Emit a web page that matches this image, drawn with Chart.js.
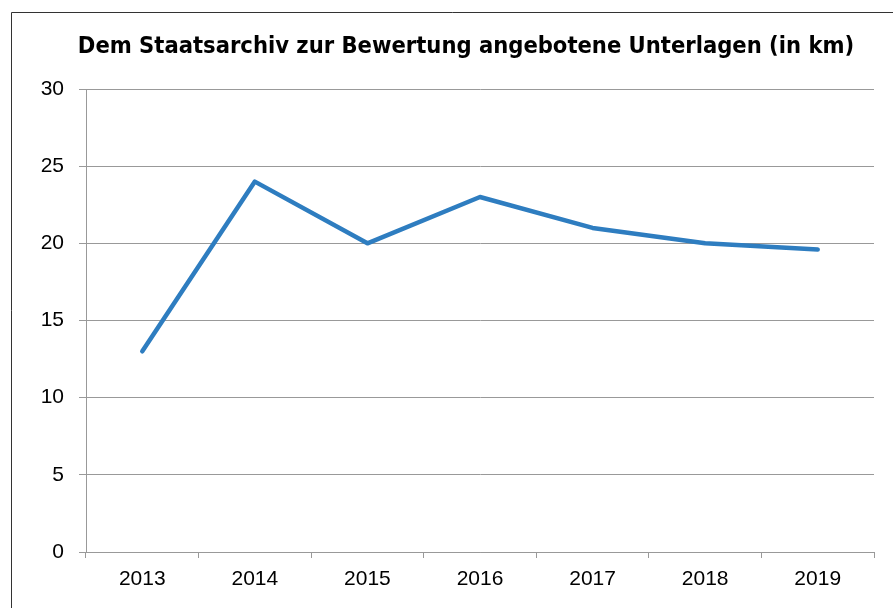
<!DOCTYPE html>
<html><head><meta charset="utf-8">
<script src="https://cdn.jsdelivr.net/npm/chart.js@4/dist/chart.umd.min.js"></script>
<style>html,body{margin:0;padding:0;background:#fff;}#wrap{width:893px;height:608px;position:relative;}</style>
</head><body><div id="wrap"><canvas id="c" width="893" height="608"></canvas></div>
<script>
const titleText = 'Dem Staatsarchiv zur Bewertung angebotene Unterlagen (in km)';
const years = ['2013','2014','2015','2016','2017','2018','2019'];
const values = [13, 24, 20, 23, 21, 20, 19.6];
const yTicks = [0, 5, 10, 15, 20, 25, 30];

const framePlugin = {
  id: 'frame',
  afterLayout(chart) {
    if (chart.titleBlock) { chart.titleBlock.left = 58; chart.titleBlock.right = 874; }
  },
  beforeDraw(chart) {
    const ctx = chart.ctx;
    ctx.save();
    ctx.fillStyle = '#fff';
    ctx.fillRect(0, 0, chart.width, chart.height);
    ctx.strokeStyle = '#333';
    ctx.lineWidth = 1;
    ctx.beginPath();
    ctx.moveTo(11.5, chart.height);
    ctx.lineTo(11.5, 12.5);
    ctx.lineTo(chart.width, 12.5);
    ctx.stroke();
    ctx.restore();
  }
};

new Chart(document.getElementById('c'), {
  type: 'line',
  data: {
    labels: years,
    datasets: [{
      data: values,
      borderColor: '#2E7DC0',
      borderWidth: 4.5,
      pointRadius: 0,
      tension: 0,
      fill: false,
      borderCapStyle: 'round',
      borderJoinStyle: 'round'
    }]
  },
  options: {
    responsive: false,
    animation: false,
    layout: { padding: { left: 0, right: 19, top: 0, bottom: 0 } },
    plugins: {
      legend: { display: false },
      tooltip: { enabled: false },
      title: {
        display: true,
        text: titleText,
        color: '#000',
        font: { family: 'DejaVu Sans Condensed', weight: 'bold', size: 23.5, lineHeight: 1.2 },
        padding: { top: 33, bottom: 27.8 }
      }
    },
    scales: {
      x: {
        offset: true,
        grid: { offset: true, drawOnChartArea: false, drawTicks: true, tickLength: 6, color: '#999' },
        border: { display: true, color: '#999' },
        ticks: { color: '#000', font: { family: 'Liberation Sans', size: 21 }, padding: 9, maxRotation: 0 },
        afterFit(s) { s.height = 56; }
      },
      y: {
        min: 0, max: 30,
        afterBuildTicks(s) { s.ticks = yTicks.map(v => ({ value: v })); },
        grid: { color: '#999', tickLength: 7 },
        border: { display: true, color: '#999' },
        ticks: { color: '#000', font: { family: 'Liberation Sans', size: 21 }, padding: 15 },
        afterFit(s) { s.width = 86; }
      }
    }
  },
  plugins: [framePlugin]
});
</script></body></html>
